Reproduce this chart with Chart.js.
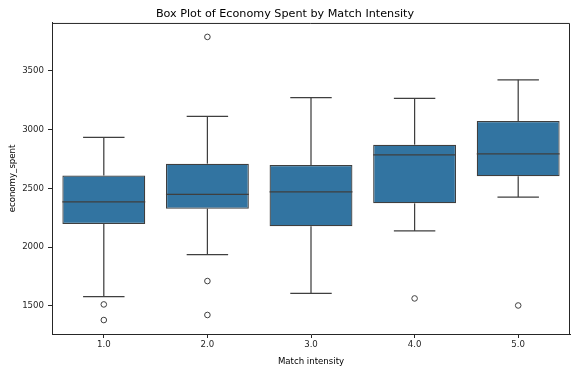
<!DOCTYPE html>
<html>
<head>
<meta charset="utf-8">
<script src="https://cdn.jsdelivr.net/npm/chart.js@4"></script>
<style>
  html, body { margin: 0; padding: 0; background: #fff; }
  #wrap { width: 571px; height: 367px; }
</style>
</head>
<body>
<div id="wrap"><canvas id="boxChart" width="571" height="367"></canvas></div>
<script>
// du lieu doc tu hinh
const intensities = ['1.0', '2.0', '3.0', '4.0', '5.0'];
const whiskerLow = [1577, 1935, 1605, 2137, 2426];
const q1Values = [2196, 2327, 2176, 2372, 2602];
const medians = [2384, 2449, 2469, 2784, 2793];
const q3Values = [2610, 2710, 2699, 2872, 3074];
const whiskerHigh = [2934, 3113, 3273, 3267, 3424];
const outliers = [
    ['1.0', 1511], ['1.0', 1378],
    ['2.0', 3790], ['2.0', 1710], ['2.0', 1421],
    ['4.0', 1562],
    ['5.0', 1502]
];
const yTicks = [1500, 2000, 2500, 3000, 3500];

const lineColor = '#3f3f3f';
const boxColor = '#3274a1';
const fontFamily = 'DejaVu Sans';

// ve rau, mu va trung vi
const boxPlotLines = {
    id: 'boxPlotLines',
    afterDatasetsDraw(chart) {
        const { ctx, scales: { x, y } } = chart;
        const step = x.getPixelForValue(1) - x.getPixelForValue(0);
        const boxHalf = step * 0.4;
        const capHalf = step * 0.2;
        ctx.save();
        ctx.strokeStyle = lineColor;
        ctx.lineWidth = 1.25;
        intensities.forEach((_, i) => {
            const cx = x.getPixelForValue(i);
            const seg = (x1, y1, x2, y2) => {
                ctx.beginPath();
                ctx.moveTo(x1, y1);
                ctx.lineTo(x2, y2);
                ctx.stroke();
            };
            seg(cx, y.getPixelForValue(q3Values[i]), cx, y.getPixelForValue(whiskerHigh[i]));
            seg(cx, y.getPixelForValue(q1Values[i]), cx, y.getPixelForValue(whiskerLow[i]));
            seg(cx - capHalf, y.getPixelForValue(whiskerHigh[i]), cx + capHalf, y.getPixelForValue(whiskerHigh[i]));
            seg(cx - capHalf, y.getPixelForValue(whiskerLow[i]), cx + capHalf, y.getPixelForValue(whiskerLow[i]));
            seg(cx - boxHalf, y.getPixelForValue(medians[i]), cx + boxHalf, y.getPixelForValue(medians[i]));
        });
        // khung tren va phai
        const a = chart.chartArea;
        ctx.strokeStyle = '#262626';
        ctx.lineWidth = 1;
        ctx.beginPath();
        ctx.moveTo(a.left, a.top + 0.5);
        ctx.lineTo(a.right - 0.5, a.top + 0.5);
        ctx.lineTo(a.right - 0.5, a.bottom);
        ctx.stroke();
        ctx.restore();
    }
};

const boxChart = new Chart(document.getElementById('boxChart').getContext('2d'), {
    data: {
        labels: intensities,
        datasets: [
            {
                type: 'bar',
                label: 'IQR',
                data: q1Values.map((q, i) => [q, q3Values[i]]),
                backgroundColor: boxColor,
                borderColor: lineColor,
                borderWidth: 1.25,
                borderSkipped: false,
                barPercentage: 0.8,
                categoryPercentage: 1
            },
            {
                type: 'line',
                label: 'Outliers',
                data: outliers.map(o => ({ x: o[0], y: o[1] })),
                showLine: false,
                pointStyle: 'circle',
                pointRadius: 2.8,
                pointBackgroundColor: '#ffffff',
                pointBorderColor: lineColor,
                pointBorderWidth: 1
            }
        ]
    },
    options: {
        responsive: false,
        animation: false,
        layout: { padding: { left: 0, right: 1, top: 0, bottom: 0 } },
        plugins: {
            legend: { display: false },
            tooltip: { enabled: false },
            title: {
                display: true,
                text: 'Box Plot of Economy Spent by Match Intensity',
                color: '#000',
                font: { family: fontFamily, size: 11.2, weight: 'normal' },
                padding: { top: 7, bottom: 2.5 }
            }
        },
        scales: {
            x: {
                type: 'category',
                offset: true,
                grid: { offset: false, drawOnChartArea: false, drawTicks: true, tickLength: 4, color: '#262626' },
                border: { display: true, color: '#262626', width: 1 },
                ticks: { color: '#262626', font: { family: fontFamily, size: 8.6 }, padding: 2, maxRotation: 0 },
                title: {
                    display: true,
                    text: 'Match intensity',
                    color: '#000',
                    font: { family: fontFamily, size: 8.6 },
                    padding: { top: 0, bottom: 0 }
                },
                afterFit: s => { s.height = 33; }
            },
            y: {
                min: 1259,
                max: 3909,
                afterBuildTicks: s => { s.ticks = yTicks.map(v => ({ value: v })); },
                grid: { drawOnChartArea: false, drawTicks: true, tickLength: 4, color: '#262626' },
                border: { display: true, color: '#262626', width: 1 },
                ticks: {
                    color: '#262626',
                    font: { family: fontFamily, size: 8.6 },
                    padding: 4,
                    callback: v => String(v)
                },
                title: {
                    display: true,
                    text: 'economy_spent',
                    color: '#000',
                    font: { family: fontFamily, size: 8.6 },
                    padding: { top: 8, bottom: 4 }
                },
                afterFit: s => { s.width = 52; }
            }
        }
    },
    plugins: [boxPlotLines]
});

// diem ngoai lai khong can chua le ben phai
boxChart.getDatasetMeta(1).controller.getMaxOverflow = () => 0;
boxChart.update();
</script>
</body>
</html>
